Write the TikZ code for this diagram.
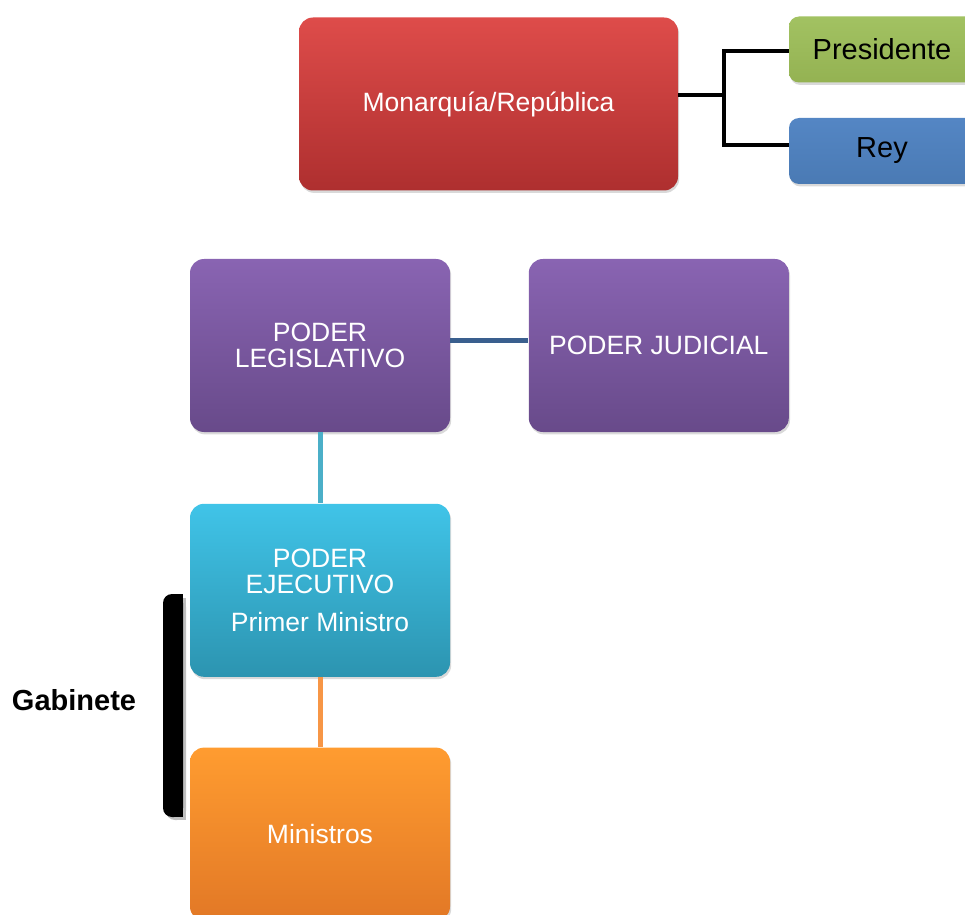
\documentclass[tikz,border=0pt]{standalone}
\usepackage{fontspec}
\setmainfont{Liberation Sans}
\usepackage{xcolor}
\usepackage{tikz}
\usetikzlibrary{shadows, positioning}
\definecolor{redtop}{HTML}{DE4C4A}
\definecolor{redbot}{HTML}{AE2F2F}
\definecolor{purtop}{HTML}{8964B2}
\definecolor{purbot}{HTML}{684A8A}
\definecolor{cyntop}{HTML}{40C4E8}
\definecolor{cynbot}{HTML}{2C94B0}
\definecolor{orgtop}{HTML}{FF9C30}
\definecolor{orgbot}{HTML}{E27826}
\definecolor{grntop}{HTML}{A2C262}
\definecolor{grnbot}{HTML}{94B252}
\definecolor{blutop}{HTML}{5486C4}
\definecolor{blubot}{HTML}{4A7AB4}
\definecolor{judline}{HTML}{3A5F8E}
\definecolor{ejeline}{HTML}{4BAFC8}
\definecolor{minline}{HTML}{F79646}
\tikzstyle{block} = [rectangle, rounded corners=7pt, minimum width=130pt, minimum height=86.5pt, align=center, text=white, font=\fontsize{13.25}{13}\selectfont, drop shadow={shadow xshift=0.6pt, shadow yshift=-1.2pt, opacity=0.3}]
\tikzstyle{tag} = [rectangle, rounded corners=5pt, minimum width=93pt, minimum height=33pt, align=center, text=black, font=\fontsize{14.5}{15}\selectfont, drop shadow={shadow xshift=0.6pt, shadow yshift=-1.2pt, opacity=0.3}]
\tikzstyle{link} = [line width=2.5pt]

\begin{document}
\begin{tikzpicture}[x=0.5pt, y=-0.5pt]
\clip (0,0) rectangle (965,915);

% Nodes
\node (mon) [block, minimum width=189.5pt, top color=redtop, bottom color=redbot] at (488.5,104) {Monarqu\'ia/Rep\'ublica};
\node (pres) [tag, top color=grntop, bottom color=grnbot] at (882,49.5) {Presidente};
\node (rey) [tag, top color=blutop, bottom color=blubot] at (882,151) {Rey};
\node (leg) [block, top color=purtop, bottom color=purbot] at (320,345.5) {PODER\\LEGISLATIVO};
\node (jud) [block, right=39pt of leg, top color=purtop, bottom color=purbot] {PODER JUDICIAL};
\node (eje) [block, below=35.5pt of leg, top color=cyntop, bottom color=cynbot] {PODER\\EJECUTIVO\\[6pt]Primer Ministro};
\node (min) [block, below=35pt of eje, top color=orgtop, bottom color=orgbot] {Ministros};
\node (gab) [font=\bfseries\fontsize{14.5}{15}\selectfont] at (74,700) {Gabinete};
\coordinate (fork) at (724,95);

% Lines
\draw [link, line width=2pt] ([yshift=4.5pt]mon.east) -- (fork);
\draw [link, line width=2pt] ([yshift=-0.8pt]pres.west) -| (fork) |- ([yshift=3pt]rey.west);
\draw [link, judline] ([yshift=2.5pt]leg.east) -- ([yshift=2.5pt]jud.west);
\draw [link, ejeline] (leg) -- (eje);
\draw [link, minline] (eje) -- (min);

% Bracket
\fill [black!25] (175,598) rectangle (186,820);
\fill [black!25, rounded corners=4.5pt] (166,598) rectangle (186,820);
\fill [black] (172,594) rectangle (183,817);
\fill [black, rounded corners=4.5pt] (163,594) rectangle (183,817);

\end{tikzpicture}
\end{document}
